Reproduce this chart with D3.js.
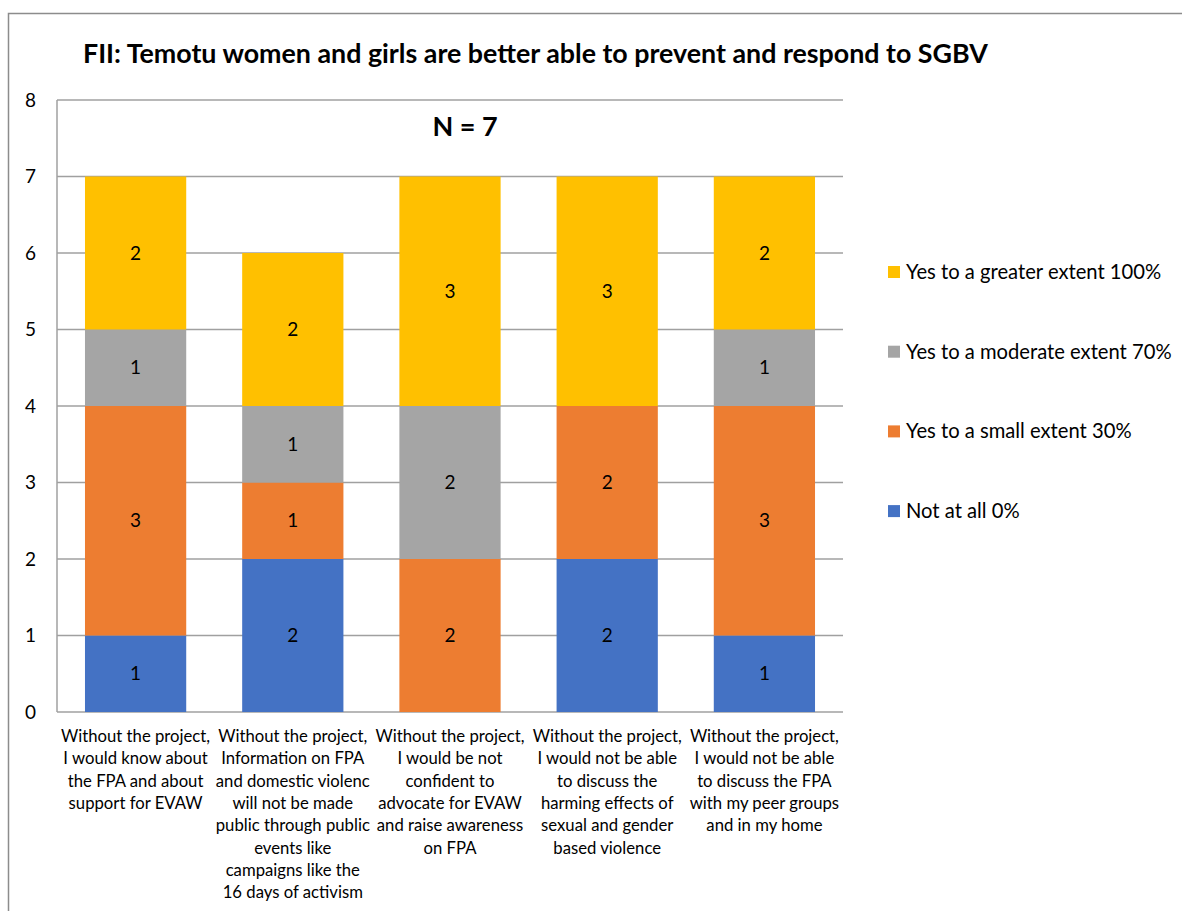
<!DOCTYPE html>
<html>
<head>
<meta charset="utf-8">
<script src="https://cdn.jsdelivr.net/npm/d3@7"></script>
<style>
  html, body { margin: 0; padding: 0; background: #fff; }
  svg { display: block; font-family: Lato, "Noto Sans", sans-serif; }
</style>
</head>
<body>
<svg id="chart" width="1182" height="911"></svg>
<script>
// Statements (wrapped as they appear under each bar)
const categories = ["c1", "c2", "c3", "c4", "c5"];
const categoryLines = [
  ["Without the project,", "I would know about", "the FPA and about", "support for EVAW"],
  ["Without the project,", "Information on FPA", "and domestic violenc", "will not be made", "public through public", "events like", "campaigns like the", "16 days of activism"],
  ["Without the project,", "I would be not", "confident to", "advocate for EVAW", "and raise awareness", "on FPA"],
  ["Without the project,", "I would not be able", "to discuss the", "harming effects of", "sexual and gender", "based violence"],
  ["Without the project,", "I would not be able", "to discuss the FPA", "with my peer groups", "and in my home"]
];

// Response counts per statement (stacked bottom to top)
const notAtAll  = [1, 2, 0, 2, 1];
const smallExt  = [3, 1, 2, 2, 3];
const moderate  = [1, 1, 2, 0, 1];
const greater   = [2, 2, 3, 3, 2];

const seriesNames  = ["Not at all 0%", "Yes to a small extent 30%", "Yes to a moderate extent 70%", "Yes to a greater extent 100%"];
const seriesColors = ["#4472C4", "#ED7D31", "#A5A5A5", "#FFC000"];
const yTicks = [0, 1, 2, 3, 4, 5, 6, 7, 8];

const title = "FII: Temotu women and girls are better able to prevent and respond to SGBV";
const subtitle = "N = 7";

const svg = d3.select("#chart");

// outer chart frame
svg.append("rect")
  .attr("x", 8.5).attr("y", 13.5)
  .attr("width", 1300).attr("height", 1000)
  .attr("fill", "none").attr("stroke", "#8c8c8c").attr("stroke-width", 1.5);

const plot = { left: 57, right: 843, top: 100, bottom: 712 };

const x = d3.scaleBand()
  .domain(categories)
  .range([plot.left, plot.right])
  .paddingInner(0.356)
  .paddingOuter(0.178);

const y = d3.scaleLinear().domain([0, 8]).range([plot.bottom, plot.top]);

// gridlines
svg.append("g")
  .selectAll("line")
  .data(yTicks)
  .join("line")
  .attr("x1", plot.left).attr("x2", plot.right)
  .attr("y1", d => y(d)).attr("y2", d => y(d))
  .attr("stroke", "#a0a0a0").attr("stroke-width", 1.5);

// y axis line
svg.append("line")
  .attr("x1", plot.left).attr("x2", plot.left)
  .attr("y1", y(8)).attr("y2", y(0))
  .attr("stroke", "#a0a0a0").attr("stroke-width", 1.5);

// y tick labels
const yAxis = d3.axisLeft(y).tickValues(yTicks).tickSize(0).tickPadding(21).tickFormat(d3.format("d"));
const yg = svg.append("g").attr("transform", `translate(${plot.left},0)`).call(yAxis);
yg.select(".domain").remove();
yg.selectAll("text")
  .attr("font-family", "Lato, sans-serif")
  .attr("font-size", 19).attr("fill", "#000");

// stacked data
const table = categories.map((c, i) => ({
  cat: c,
  s0: notAtAll[i], s1: smallExt[i], s2: moderate[i], s3: greater[i]
}));
const stack = d3.stack().keys(["s0", "s1", "s2", "s3"]);
const layers = stack(table);

const gBars = svg.append("g");
layers.forEach((layer, li) => {
  const g = gBars.append("g");
  g.selectAll("rect")
    .data(layer.filter(d => d[1] - d[0] > 0))
    .join("rect")
    .attr("x", d => x(d.data.cat))
    .attr("width", x.bandwidth())
    .attr("y", d => y(d[1]))
    .attr("height", d => y(d[0]) - y(d[1]))
    .attr("fill", seriesColors[li]);
  g.selectAll("text")
    .data(layer.filter(d => d[1] - d[0] > 0))
    .join("text")
    .attr("x", d => x(d.data.cat) + x.bandwidth() / 2)
    .attr("y", d => (y(d[0]) + y(d[1])) / 2)
    .attr("dy", "0.35em")
    .attr("text-anchor", "middle")
    .attr("font-size", 19)
    .attr("fill", "#000")
    .text(d => d[1] - d[0]);
});

// category labels
const catG = svg.append("g");
categories.forEach((c, i) => {
  const t = catG.append("text")
    .attr("x", x(c) + x.bandwidth() / 2)
    .attr("y", 742)
    .attr("text-anchor", "middle")
    .attr("font-size", 16.7)
    .attr("fill", "#000");
  categoryLines[i].forEach((line, k) => {
    t.append("tspan")
      .attr("x", x(c) + x.bandwidth() / 2)
      .attr("y", 742 + k * 22.3)
      .text(line);
  });
});

// title
svg.append("text")
  .attr("x", 83).attr("y", 63)
  .attr("font-size", 26.8).attr("font-weight", "bold")
  .attr("fill", "#000")
  .text(title);

// N label
svg.append("text")
  .attr("x", 465).attr("y", 136)
  .attr("text-anchor", "middle")
  .attr("font-size", 27).attr("font-weight", "bold")
  .attr("fill", "#000")
  .text(subtitle);

// legend (top entry is the top stack segment)
const legendOrder = [3, 2, 1, 0];
const legend = svg.append("g");
legendOrder.forEach((si, k) => {
  const cy = 272 + k * 79.7;
  legend.append("rect")
    .attr("x", 888).attr("y", cy - 6)
    .attr("width", 12).attr("height", 12)
    .attr("fill", seriesColors[si]);
  legend.append("text")
    .attr("x", 906).attr("y", cy)
    .attr("dy", "0.35em")
    .attr("font-size", 20.2)
    .attr("fill", "#000")
    .text(seriesNames[si]);
});
</script>
</body>
</html>
